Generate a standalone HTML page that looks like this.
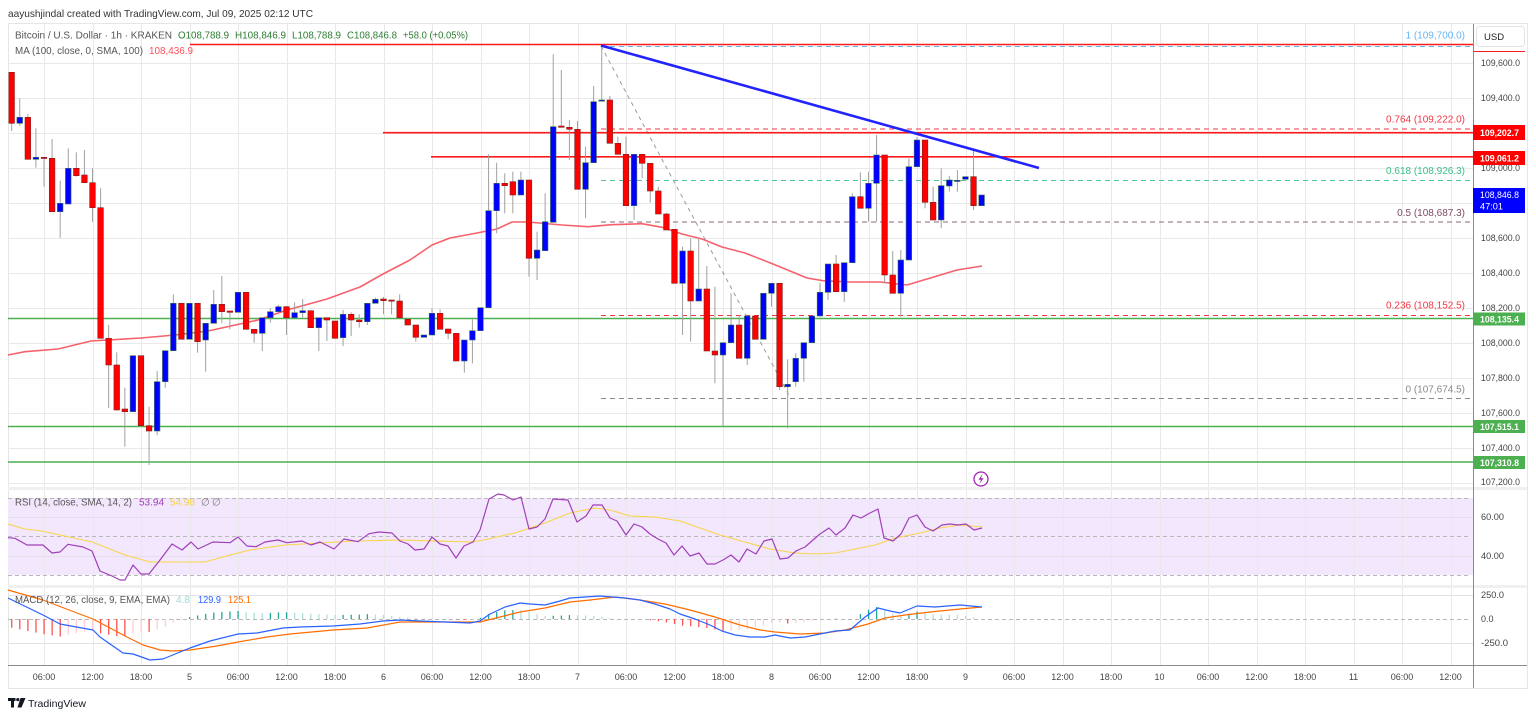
<!DOCTYPE html>
<html><head><meta charset="utf-8">
<style>
html,body{margin:0;padding:0;background:#fff;}
svg{display:block;font-family:"Liberation Sans",sans-serif;}
</style></head><body>
<svg id="c" width="1536" height="718" viewBox="0 0 1536 718" xmlns="http://www.w3.org/2000/svg">
<rect width="1536" height="718" fill="#fff"/>
<!-- header -->
<text x="8" y="17" font-size="10.5" fill="#333" textLength="305" lengthAdjust="spacingAndGlyphs">aayushjindal created with TradingView.com, Jul 09, 2025 02:12 UTC</text>
<!-- frame -->
<rect x="8.5" y="23.5" width="1519" height="665" fill="none" stroke="#e6e6e6"/>
<!-- RSI band -->
<rect x="8" y="498" width="1465" height="77" fill="#f3e7fd"/>
<g id="grid"></g>
<!-- RSI dashed levels -->
<g stroke="#b8b8b8" stroke-dasharray="4,3" stroke-width="1">
<line x1="8" y1="498.5" x2="1470" y2="498.5"/>
<line x1="8" y1="536.5" x2="1470" y2="536.5"/>
<line x1="8" y1="575.5" x2="1470" y2="575.5"/>
<line x1="8" y1="619.5" x2="1470" y2="619.5"/>
</g>
<!-- pane separators -->
<rect x="8" y="487" width="1519" height="3" fill="#f0f0f0"/>
<rect x="8" y="585" width="1519" height="3" fill="#f0f0f0"/>
<!-- fib lines -->
<g stroke-dasharray="5,4" stroke-width="1">
<line x1="601" y1="46.5" x2="1473" y2="46.5" stroke="#64b5f6"/>
<line x1="601" y1="129" x2="1473" y2="129" stroke="#f23645"/>
<line x1="601" y1="180.5" x2="1473" y2="180.5" stroke="#4cc790"/>
<line x1="601" y1="222" x2="1473" y2="222" stroke="#8d6478"/>
<line x1="601" y1="315.5" x2="1473" y2="315.5" stroke="#f23645"/>
<line x1="601" y1="398.5" x2="1473" y2="398.5" stroke="#8a8a8a"/>
</g>
<line x1="601" y1="46" x2="791" y2="399" stroke="#9a9a9a" stroke-dasharray="4,4" stroke-width="1"/>
<!-- horizontal lines -->
<g stroke="#ff1a1a" stroke-width="1.6">
<line x1="190" y1="44.5" x2="1473" y2="44.5"/>
<line x1="383" y1="132.7" x2="1473" y2="132.7"/>
<line x1="431" y1="156.8" x2="1473" y2="156.8"/>
</g>
<line x1="1473" y1="51.5" x2="1525" y2="51.5" stroke="#ff1a1a" stroke-width="1"/>
<g stroke="#4caf50" stroke-width="1.6">
<line x1="8" y1="318.5" x2="1473" y2="318.5"/>
<line x1="8" y1="426.5" x2="1473" y2="426.5"/>
<line x1="8" y1="462" x2="1473" y2="462"/>
</g>
<g id="ma"></g>
<g id="candles"></g>
<line x1="601" y1="45.5" x2="1039" y2="168" stroke="#2323ff" stroke-width="2.6"/>
<g id="ind"></g>

<!-- legend -->
<text x="15" y="38.5" font-size="10" fill="#555" textLength="157" lengthAdjust="spacingAndGlyphs">Bitcoin / U.S. Dollar · 1h · KRAKEN</text>
<g font-size="10" fill="#2e7d32">
<text x="178" y="38.5" textLength="51" lengthAdjust="spacingAndGlyphs">O108,788.9</text>
<text x="235" y="38.5" textLength="51" lengthAdjust="spacingAndGlyphs">H108,846.9</text>
<text x="292" y="38.5" textLength="49" lengthAdjust="spacingAndGlyphs">L108,788.9</text>
<text x="347" y="38.5" textLength="50" lengthAdjust="spacingAndGlyphs">C108,846.8</text>
<text x="403" y="38.5" textLength="65" lengthAdjust="spacingAndGlyphs">+58.0 (+0.05%)</text>
</g>
<text x="15" y="54" font-size="10" fill="#555" textLength="128" lengthAdjust="spacingAndGlyphs">MA (100, close, 0, SMA, 100)</text>
<text x="149" y="54" font-size="10" fill="#ff4d5a" textLength="44" lengthAdjust="spacingAndGlyphs">108,436.9</text>

<text x="15" y="505.5" font-size="10" fill="#555" textLength="117" lengthAdjust="spacingAndGlyphs">RSI (14, close, SMA, 14, 2)</text>
<text x="139" y="505.5" font-size="10" fill="#a040b8" textLength="25" lengthAdjust="spacingAndGlyphs">53.94</text>
<text x="170" y="505.5" font-size="10" fill="#f5d547" textLength="25" lengthAdjust="spacingAndGlyphs">54.98</text>
<text x="201" y="505.5" font-size="10" fill="#777">∅</text>
<text x="212" y="505.5" font-size="10" fill="#777">∅</text>

<text x="15" y="603" font-size="10" fill="#555" textLength="155" lengthAdjust="spacingAndGlyphs">MACD (12, 26, close, 9, EMA, EMA)</text>
<text x="176" y="603" font-size="10" fill="#9fd9d2" textLength="14" lengthAdjust="spacingAndGlyphs">4.8</text>
<text x="198" y="603" font-size="10" fill="#2962ff" textLength="23" lengthAdjust="spacingAndGlyphs">129.9</text>
<text x="228" y="603" font-size="10" fill="#ff6d00" textLength="23" lengthAdjust="spacingAndGlyphs">125.1</text>

<!-- fib labels -->
<g font-size="10" text-anchor="end">
<text x="1465" y="38.5" fill="#64b5f6">1 (109,700.0)</text>
<text x="1465" y="122.5" fill="#f23645">0.764 (109,222.0)</text>
<text x="1465" y="174" fill="#3cbf88">0.618 (108,926.3)</text>
<text x="1465" y="216" fill="#7e4a63">0.5 (108,687.3)</text>
<text x="1465" y="308.5" fill="#f23645">0.236 (108,152.5)</text>
<text x="1465" y="392.5" fill="#8a8a8a">0 (107,674.5)</text>
</g>

<!-- lightning icon -->
<circle cx="981" cy="479" r="7" fill="#fff" stroke="#9c27b0" stroke-width="1.3"/>
<path d="M982.5 474 L978.5 479.8 L981 479.8 L979.5 484 L983.5 478.2 L981 478.2 Z" fill="#9c27b0"/>

<!-- axis area -->
<rect x="1474" y="24" width="53" height="664" fill="#fff"/>
<line x1="1473.5" y1="24" x2="1473.5" y2="688" stroke="#8a8a8a"/>
<line x1="8" y1="665.5" x2="1527" y2="665.5" stroke="#8a8a8a"/>
<line x1="1474" y1="51.5" x2="1525" y2="51.5" stroke="#ff1a1a" stroke-width="1"/>
<rect x="1474" y="487" width="53" height="3" fill="#f0f0f0"/>
<rect x="1474" y="585" width="53" height="3" fill="#f0f0f0"/>
<rect x="1476.5" y="26.5" width="48" height="20" rx="3" fill="#fff" stroke="#e3e3e3"/>
<text x="1484" y="40" font-size="9.5" fill="#222">USD</text>

<g font-size="9" fill="#444">
<text x="1481" y="66.2" textLength="39" lengthAdjust="spacingAndGlyphs">109,600.0</text>
<text x="1481" y="101.2" textLength="39" lengthAdjust="spacingAndGlyphs">109,400.0</text>
<text x="1481" y="171.2" textLength="39" lengthAdjust="spacingAndGlyphs">109,000.0</text>
<text x="1481" y="241.2" textLength="39" lengthAdjust="spacingAndGlyphs">108,600.0</text>
<text x="1481" y="276.2" textLength="39" lengthAdjust="spacingAndGlyphs">108,400.0</text>
<text x="1481" y="311.2" textLength="39" lengthAdjust="spacingAndGlyphs">108,200.0</text>
<text x="1481" y="346.2" textLength="39" lengthAdjust="spacingAndGlyphs">108,000.0</text>
<text x="1481" y="381.2" textLength="39" lengthAdjust="spacingAndGlyphs">107,800.0</text>
<text x="1481" y="416.2" textLength="39" lengthAdjust="spacingAndGlyphs">107,600.0</text>
<text x="1481" y="451.2" textLength="39" lengthAdjust="spacingAndGlyphs">107,400.0</text>
<text x="1481" y="485.2" textLength="39" lengthAdjust="spacingAndGlyphs">107,200.0</text>
<text x="1481" y="520.2" textLength="23" lengthAdjust="spacingAndGlyphs">60.00</text>
<text x="1481" y="559.2" textLength="23" lengthAdjust="spacingAndGlyphs">40.00</text>
<text x="1481" y="598.2" textLength="23" lengthAdjust="spacingAndGlyphs">250.0</text>
<text x="1481" y="622.2">0.0</text>
<text x="1481" y="646.2" textLength="27" lengthAdjust="spacingAndGlyphs">-250.0</text>
</g>

<!-- price tags -->
<rect x="1473" y="125" width="52" height="15" fill="#ff0000"/>
<text x="1480" y="136" font-size="9.5" fill="#fff" font-weight="bold" textLength="39" lengthAdjust="spacingAndGlyphs">109,202.7</text>
<rect x="1473" y="151" width="52" height="14" fill="#ff0000"/>
<text x="1480" y="161.5" font-size="9.5" fill="#fff" font-weight="bold" textLength="39" lengthAdjust="spacingAndGlyphs">109,061.2</text>
<rect x="1473" y="188" width="52" height="25" fill="#0000ff"/>
<text x="1480" y="198" font-size="9.5" fill="#fff" textLength="39" lengthAdjust="spacingAndGlyphs">108,846.8</text>
<text x="1480" y="209.5" font-size="9.5" fill="#fff" textLength="23" lengthAdjust="spacingAndGlyphs">47:01</text>
<rect x="1473" y="312.5" width="52" height="13" fill="#4caf50"/>
<text x="1480" y="322.5" font-size="9.5" fill="#fff" font-weight="bold" textLength="39" lengthAdjust="spacingAndGlyphs">108,135.4</text>
<rect x="1473" y="420" width="52" height="13" fill="#4caf50"/>
<text x="1480" y="430" font-size="9.5" fill="#fff" font-weight="bold" textLength="39" lengthAdjust="spacingAndGlyphs">107,515.1</text>
<rect x="1473" y="456" width="52" height="13" fill="#4caf50"/>
<text x="1480" y="466" font-size="9.5" fill="#fff" font-weight="bold" textLength="39" lengthAdjust="spacingAndGlyphs">107,310.8</text>

<!-- time axis -->
<g font-size="9" fill="#444" text-anchor="middle">
<text x="44" y="680">06:00</text><text x="92.5" y="680">12:00</text><text x="141" y="680">18:00</text><text x="189.5" y="680">5</text>
<text x="238" y="680">06:00</text><text x="286.5" y="680">12:00</text><text x="335" y="680">18:00</text><text x="383.5" y="680">6</text>
<text x="432" y="680">06:00</text><text x="480.5" y="680">12:00</text><text x="529" y="680">18:00</text><text x="577.5" y="680">7</text>
<text x="626" y="680">06:00</text><text x="674.5" y="680">12:00</text><text x="723" y="680">18:00</text><text x="771.5" y="680">8</text>
<text x="820" y="680">06:00</text><text x="868.5" y="680">12:00</text><text x="917" y="680">18:00</text><text x="965.5" y="680">9</text>
<text x="1014" y="680">06:00</text><text x="1062.5" y="680">12:00</text><text x="1111" y="680">18:00</text><text x="1159.5" y="680">10</text>
<text x="1208" y="680">06:00</text><text x="1256.5" y="680">12:00</text><text x="1305" y="680">18:00</text><text x="1353.5" y="680">11</text>
<text x="1402" y="680">06:00</text><text x="1450.5" y="680">12:00</text>
</g>

<!-- TradingView logo -->
<rect x="8" y="698" width="7.5" height="3" fill="#131722"/>
<rect x="11" y="698" width="3" height="9.5" fill="#131722"/>
<circle cx="17.8" cy="699.6" r="1.6" fill="#131722"/>
<polygon points="20.5,698 25.5,698 21.5,707.5 17.5,707.5" fill="#131722"/>
<text x="28" y="707" font-size="10.5" fill="#131722" textLength="58" lengthAdjust="spacingAndGlyphs">TradingView</text>
</svg>
<script>
(function(){
const NS="http://www.w3.org/2000/svg";
function el(p,t,a){const e=document.createElementNS(NS,t);for(const k in a)e.setAttribute(k,a[k]);p.appendChild(e);return e;}
const $=id=>document.getElementById(id);
// grid
const G=$('grid');
for(let k=0;k<30;k++){const x=Math.round(44+48.5*k)+0.5;el(G,'line',{x1:x,y1:24,x2:x,y2:665,stroke:'#e9e9e9'});}
for(let y=63;y<=484;y+=35){el(G,'line',{x1:8,y1:y+0.5,x2:1473,y2:y+0.5,stroke:'#e9e9e9'});}
[517.5,556.5,595.5,643.5].forEach(y=>el(G,'line',{x1:8,y1:y,x2:1473,y2:y,stroke:'#e4e0ea'}));
function pl(p,pts,col,w,op){el(p,'polyline',{points:pts.map(a=>a.join(',')).join(' '),fill:'none',stroke:col,'stroke-width':w,'stroke-linejoin':'round','stroke-opacity':op||1});}
// MA
const ma=[[8,355],[25,351.7],[58,349],[91,341],[141,338],[175,335],[208,331],[258,320],[287,310],[327,299],[360,287],[383,274],[410,260],[432,245],[450,238],[477,233],[497,229],[512,222],[528,222],[562,225],[588,226.7],[612,224.7],[642,223.7],[662,227.3],[682,234],[702,239],[722,247],[745,253],[773,264],[807,278],[823,280.7],[850,282],[880,282],[907,285],[927,279],[957,270],[982,266]];
pl($('ma'),ma,'#f5505c',1.6,0.9);
// candles
const C=[[72.3,123.3,72,131],[123.3,117.3,98.3,125.7],[117.3,159.3,114.3,159.3],[159.3,157.3,128.3,167.7],[157.3,158.3,157,186.7],[158.3,211.7,139,212],[211.7,203.3,180.7,237.7],[204,168.3,148.3,204],[168.3,175.7,152.3,176.7],[175,182.7,150,183],[182.7,207.7,168.3,221.7],[207.7,338.3,188.3,338.3],[338.3,365,325,408],[365,410,352.3,410],[409,411.7,387.7,446.7],[411.7,355.7,355.7,411.7],[355.7,425.7,355.7,425.7],[425.7,431,406.7,465],[431,381.7,371,435],[381.7,350.7,350.7,387.7],[350.7,303.3,294.3,350.7],[303.3,339.3,303.3,339.3],[339.3,303.3,303.3,339.3],[303.3,341.7,303.3,352.7],[340,323.3,323.3,371.7],[323.3,304.3,290,323.3],[304.3,311.7,276,323.3],[311,312.3,311,329.3],[312.3,292.3,292,312.3],[292.3,329.3,292.3,329.3],[329.3,333.3,329.3,342.7],[333.3,317.7,317.7,351],[317.7,311.7,308,322.7],[311.7,306.7,305,311.7],[306.7,317.7,306,335],[317.7,312.7,302.3,317.7],[312.7,310.7,299,317.7],[310.7,327.7,310.7,327.7],[327.7,317.7,317.7,351],[317.7,320,317.7,341],[321,338.3,321,338.3],[337.7,314.3,310,346],[314.3,320,312.3,336],[320,321.7,314.3,327.7],[321.7,303.3,303.3,325],[303.3,299.3,297.7,303.3],[299,300.7,297,314.3],[300,301,300,314.3],[301,317.7,294.3,317.7],[319.3,325,319.3,325],[325,337.3,325,341.7],[337.3,335,335,337.3],[335,313.3,308.3,335],[313.3,329.3,309.3,329.3],[329,333.3,329,339.3],[333.3,361,333.3,361],[361,340,340,372.7],[340,330.7,319.3,363.3],[330.7,307.7,307.7,330.7],[307.7,210.7,154.3,307.7],[210.7,183.3,162.7,233.3],[183.3,185.7,173.3,213.3],[181.7,195,171.7,213.3],[195,180,171.7,195],[180,258.3,180,276.7],[258.3,250,231.7,280],[250.7,221.7,193.3,250.7],[222.3,126.7,54.3,222.3],[126,127.3,70,127.3],[127.3,129.3,120,160],[129.3,189.3,121,189.3],[189.3,162.7,146.7,218.3],[162.7,101.7,86,162.7],[101,100,45.7,101],[100,143.3,96,143.3],[143.3,154.3,136.7,154.3],[154.3,205.7,136.7,205.7],[205.7,154.3,154.3,220],[154.3,163.3,154.3,178.3],[163.3,191,163.3,202.7],[191,214,186.7,214],[214,230,212.7,230],[229.3,283.3,229.3,283.3],[283.3,251,246.7,335],[251,301,238.3,341.7],[301,289,238.3,301],[289,351,266,351],[351,355,286.7,383.3],[355,342.7,342.7,426.7],[342.7,325,293.3,342.7],[325,358.3,315,358.3],[358.3,316,316,365],[316,339.3,316,339.3],[339.3,293.3,293.3,339.3],[293.3,283.3,283.3,306.7],[283.3,386.7,283.3,390],[386.7,384.3,359.3,428.3],[381.7,358.3,353.3,386.7],[358.3,342.7,342.7,381.7],[342.7,316,316,342.7],[316,292.3,283.3,316],[292.3,264,264,300],[264,291.7,255,291.7],[291.7,262.7,262.7,301.7],[262.7,196.7,193.3,262.7],[196.7,208.3,172.3,208.3],[208.3,183.3,171.7,221.7],[183.3,155,135,221.7],[155,275,155,283.3],[275,293.3,251,293.3],[293.3,260,250,316.7],[260,166.7,158.3,260],[166.7,140,137,166.7],[140,202.3,140,208.3],[202.3,220,186.7,220],[220,185.7,168.3,228.3],[186,180,176,191.7],[180.7,180.3,170,191.7],[179.3,176.7,176.7,179.3],[176.7,205.7,148.3,210],[205.7,195,195,205.7]];
const CG=$('candles');
C.forEach((c,i)=>{const x=11.67+8.083*i;const o=c[0],cl=c[1],h=c[2],l=c[3];const up=cl<o;const top=Math.min(o,cl),bot=Math.max(o,cl);
el(CG,'line',{x1:x,y1:Math.min(h,top),x2:x,y2:Math.max(l,bot),stroke:'#a0a0a0','stroke-width':1});
el(CG,'rect',{x:x-2.8,y:top,width:5.6,height:Math.max(bot-top,1.2),fill:up?'#0000ff':'#ff0000',stroke:up?'#3c6e55':'#802020','stroke-width':0.6});});
// indicators
const I=$('ind');
const rsi=[[8,537.7],[15,538.3],[27,545],[43,545],[52,553],[60,552],[68,544.3],[83,547],[92,551],[100,571],[112,576],[120,580],[125,580],[133,565],[141,574],[149,574],[160,560],[172,544],[182,550],[191,542],[198,549],[213,542],[230,542.7],[238,537],[247,546],[256,546.7],[265,542],[278,540],[287,542.7],[302,541],[311,545],[320,542],[334,549],[344,539],[358,541.7],[369,533.7],[379,532],[392,533],[400,541],[408,544],[415,550],[424,549],[432,537],[440,544],[448,546],[456,558],[464,546],[473,542],[480,530],[489,499],[498,494],[504,495],[513,500],[521,497],[529,529],[537,527],[545,519],[553,499],[568,500],[577,522],[586,516],[593,505],[602,505],[610,518],[617,521],[626,535],[634,524],[642,527],[650,534],[658,539],[666,543],[674,555],[682,546],[690,556],[699,553],[707,564],[715,564],[723,560],[731,555],[739,562],[747,549],[756,554],[764,541],[772,539],[780,559],[788,558],[796,551],[805,547],[813,540],[820,534],[829,528],[836,535],[845,528],[853,515],[861,518],[870,513],[878,509],[884,538],[893,541],[901,534],[909,518],[917,515],[925,527],[933,531],[942,525],[950,524],[958,525],[966,524],[974,530],[982,528]];
const rsma=[[8,524],[25,529],[42,531],[60,535],[92,542],[125,555],[150,562],[180,562],[205,562],[230,555],[250,550],[285,545],[320,543],[355,541],[400,540],[447,541.3],[470,542],[484,540],[515,533],[530,528],[545,523],[570,513],[595,508],[610,510],[630,516],[655,517],[680,521],[700,528],[720,535],[745,542],[770,549],[795,553],[815,554],[835,553],[855,549],[875,545],[895,538],[920,533],[940,528],[960,525],[982,527]];
const macd=[[8,598],[43,615],[60,624],[93,630],[100,637],[123,653],[133,654],[150,660],[163,659],[180,652],[190,648],[210,641],[238,634],[257,633],[283,628],[300,627],[333,626],[360,624],[383,621],[400,620],[420,621],[445,622],[470,623],[480,621],[490,614],[505,607],[520,603],[530,604],[545,605],[560,601],[570,598],[585,597],[600,596],[612,597],[625,598],[640,600],[655,604],[670,609],[680,614],[695,619],[710,625],[722,631],[735,635],[750,637],[765,637],[775,635],[790,638],[805,637],[820,634],[835,631],[850,630],[865,617],[878,608],[890,611],[900,613],[917,606],[935,607],[960,605],[982,607]];
const sig=[[8,590],[43,600],[77,613],[93,619],[110,628],[127,637],[143,645],[160,650],[173,651],[190,650],[217,646],[238,642],[267,637],[290,634],[333,630],[367,628],[400,622],[445,622],[480,622],[500,617],[520,612],[545,608],[570,602],[590,600],[615,597],[640,600],[665,604],[690,610],[715,617],[740,625],[760,630],[775,632],[800,634],[825,633],[845,630],[868,624],[885,618],[905,615],[930,612],[960,609],[982,607]];
function interp(a,x){if(x<=a[0][0])return a[0][1];for(let i=1;i<a.length;i++){if(x<=a[i][0]){const t=(x-a[i-1][0])/(a[i][0]-a[i-1][0]);return a[i-1][1]+t*(a[i][1]-a[i-1][1]);}}return a[a.length-1][1];}
// histogram
let prev=0;
for(let i=0;i<121;i++){const x=11.67+8.083*i;const v=interp(sig,x)-interp(macd,x);let col;
if(v>=0)col=(v>=prev)?'#26a69a':'#b2dfdb';else col=(v<=prev)?'#ff5252':'#ffcdd2';
prev=v;const h=Math.abs(v);if(h<0.3)continue;
el(I,'rect',{x:x-0.6,y:v>=0?619-h:619,width:1.3,height:h,fill:col});}
pl(I,rsma,'#f7d54a',1.1);
pl(I,rsi,'#a040b8',1.2);
pl(I,sig,'#ff6d00',1.2);
pl(I,macd,'#2962ff',1.2);
})();
</script>
</body></html>
